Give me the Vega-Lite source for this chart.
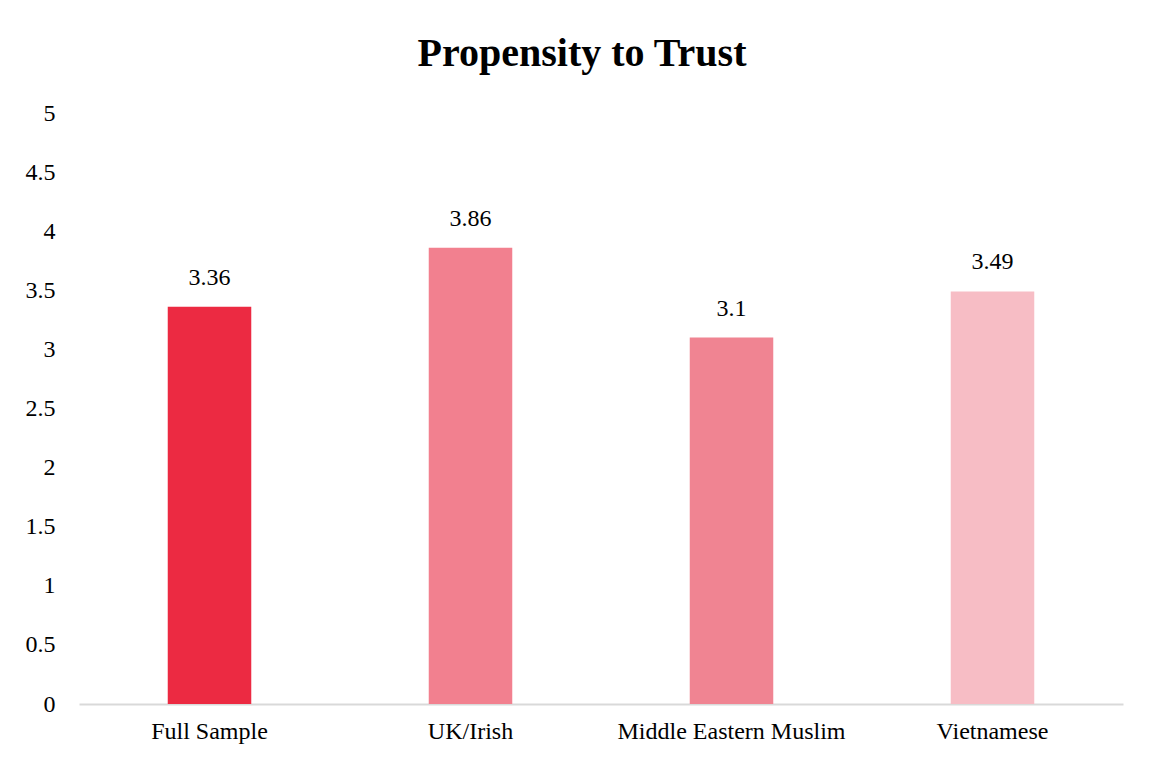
{
  "$schema": "https://vega.github.io/schema/vega-lite/v6.json",
  "width": 1044,
  "height": 591,
  "autosize": {"type": "none"},
  "padding": {"left": 79, "top": 113, "right": 33, "bottom": 58},
  "background": "white",
  "title": {
    "text": "Propensity to Trust",
    "font": "Liberation Serif",
    "fontSize": 40,
    "fontWeight": "bold",
    "color": "#000000",
    "anchor": "middle",
    "baseline": "alphabetic",
    "offset": -5,
    "dx": -19
  },
  "data": {
    "values": [
      {"group": "Full Sample", "value": 3.36},
      {"group": "UK/Irish", "value": 3.86},
      {"group": "Middle Eastern Muslim", "value": 3.1},
      {"group": "Vietnamese", "value": 3.49}
    ]
  },
  "encoding": {
    "x": {
      "field": "group",
      "type": "nominal",
      "sort": null,
      "scale": {"paddingInner": 0.68, "paddingOuter": 0.34},
      "axis": {
        "title": null,
        "labelAngle": 0,
        "labelFont": "Liberation Serif",
        "labelFontSize": 24,
        "labelColor": "#000000",
        "labelPadding": 15,
        "labelLimit": 0,
        "ticks": false,
        "domainColor": "#d9d9d9",
        "domainWidth": 2
      }
    },
    "y": {
      "field": "value",
      "type": "quantitative",
      "scale": {"domain": [0, 5], "nice": false},
      "axis": {
        "title": null,
        "values": [0, 0.5, 1, 1.5, 2, 2.5, 3, 3.5, 4, 4.5, 5],
        "labelExpr": "'' + datum.value",
        "labelFont": "Liberation Serif",
        "labelFontSize": 24,
        "labelColor": "#000000",
        "labelPadding": 24,
        "ticks": false,
        "domain": false,
        "grid": false
      }
    }
  },
  "layer": [
    {
      "mark": {"type": "bar"},
      "encoding": {
        "color": {
          "field": "group",
          "type": "nominal",
          "sort": null,
          "legend": null,
          "scale": {
            "domain": ["Full Sample", "UK/Irish", "Middle Eastern Muslim", "Vietnamese"],
            "range": ["#EC2A42", "#F2808F", "#F08492", "#F7BDC5"]
          }
        }
      }
    },
    {
      "mark": {"type": "text", "baseline": "alphabetic", "dy": -22, "font": "Liberation Serif", "fontSize": 24, "color": "#000000"},
      "encoding": {
        "text": {"field": "value", "type": "quantitative"}
      }
    }
  ],
  "config": {"view": {"stroke": null}}
}
